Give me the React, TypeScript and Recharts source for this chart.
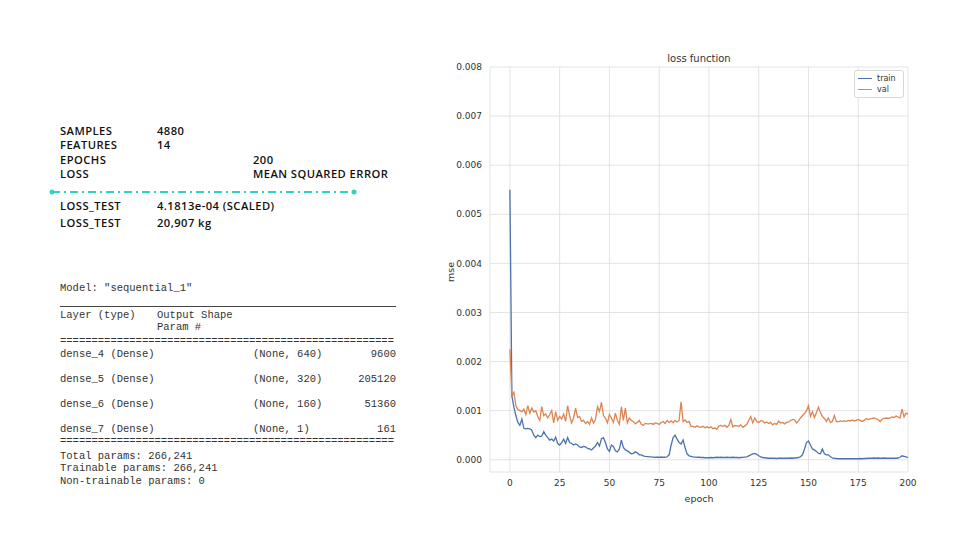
import { CartesianGrid, Line, LineChart, XAxis, YAxis } from 'recharts';

// summary block on the left
const summaryRows = [
  { label: 'SAMPLES', value: '4880', col: 157, y: 131 },
  { label: 'FEATURES', value: '14', col: 157, y: 145 },
  { label: 'EPOCHS', value: '200', col: 253, y: 160 },
  { label: 'LOSS', value: 'MEAN SQUARED ERROR', col: 253, y: 174 },
];
const testRows = [
  { label: 'LOSS_TEST', value: '4.1813e-04 (SCALED)', y: 206 },
  { label: 'LOSS_TEST', value: '20,907 kg', y: 223 },
];

const layerRows = [
  { name: 'dense_4 (Dense)', shape: '(None, 640)', params: '9600', y: 354 },
  { name: 'dense_5 (Dense)', shape: '(None, 320)', params: '205120', y: 379 },
  { name: 'dense_6 (Dense)', shape: '(None, 160)', params: '51360', y: 404 },
  { name: 'dense_7 (Dense)', shape: '(None, 1)', params: '161', y: 429 },
];
const footerRows = [
  { text: 'Total params: 266,241', y: 456 },
  { text: 'Trainable params: 266,241', y: 468 },
  { text: 'Non-trainable params: 0', y: 481 },
];

// chart data (mse, in units of 1e-4), epochs 0..200
const trainLossE4 = [
  55, 13, 10.7, 9, 7.6, 7, 8.3, 6.4, 6.3, 6.4,
  6.3, 6, 5, 4.5, 5, 4.7, 4.8, 5.7, 5, 4.5,
  4, 4.2, 3.8, 4.6, 3.3, 3, 3.5, 4.2, 3.3, 4.5,
  3.5, 3.3, 3, 3.2, 3, 2.6, 2.5, 2.7, 2.6, 2.3,
  2.2, 2, 2.4, 2.8, 3.5, 2.8, 4.3, 4.5, 3.5, 2.2,
  1.7, 3, 2.7, 1.8, 1.6, 2.2, 4, 2.5, 2, 1.8,
  1.5, 1.2, 1.3, 1.6, 1.4, 1, 1, 0.8, 0.7, 0.65,
  0.6, 0.6, 0.55, 0.5, 0.5, 0.5, 0.55, 0.5, 0.5, 0.6,
  1, 3, 4.5, 5, 4.2, 3.5, 3.2, 4, 2.5, 1.2,
  0.8, 0.7, 0.6, 0.55, 0.5, 0.5, 0.45, 0.45, 0.4, 0.4,
  0.4, 0.45, 0.4, 0.45, 0.5, 0.45, 0.5, 0.45, 0.45, 0.5,
  0.45, 0.45, 0.5, 0.45, 0.45, 0.4, 0.45, 0.5, 0.55, 0.6,
  0.8, 1, 1.2, 1.3, 1.1, 0.8, 0.6, 0.45, 0.4, 0.35,
  0.3, 0.3, 0.3, 0.3, 0.25, 0.3, 0.3, 0.3, 0.3, 0.3,
  0.3, 0.35, 0.3, 0.35, 0.4, 0.45, 0.6, 1, 2.2, 3.5,
  3.8, 3, 2.2, 2, 1.7, 1.3, 1.2, 2.2, 1.2, 1,
  1, 0.6, 0.4, 0.3, 0.25, 0.2, 0.2, 0.2, 0.2, 0.2,
  0.2, 0.2, 0.2, 0.2, 0.2, 0.2, 0.25, 0.2, 0.25, 0.25,
  0.3, 0.3, 0.3, 0.35, 0.3, 0.35, 0.3, 0.3, 0.35, 0.3,
  0.3, 0.3, 0.3, 0.3, 0.3, 0.35, 0.5, 0.8, 0.7, 0.6,
  0.4,
];
const valLossE4 = [
  22.5, 13, 13.7, 11, 10.2, 10, 9.8, 10.3, 9.2, 11,
  9.5, 10.5, 9.7, 10, 8.8, 8, 10.8, 9, 9.3, 8.5,
  9.2, 10, 7.5, 9.8, 8, 8.8, 8.3, 9.3, 7.8, 11,
  9, 7.5, 8.5, 10.5, 8.6, 8.8, 7.8, 8, 7.4, 7.8,
  7.2, 8.5, 7.5, 8.2, 10.8, 9.8, 11.7, 9, 8.5, 7.5,
  9.2, 8.5, 7.6, 9.5, 8, 7.2, 10.8, 8, 10.5, 7.5,
  8.5, 8, 7.8, 7.3, 7.6, 8, 7.2, 7, 7.4, 7.3,
  7.3, 7.4, 7.2, 7.5, 7.4, 7.2, 7.6, 7.8, 7.4, 8,
  7.6, 7.9, 7.5, 8, 7.7, 8, 11.8, 7.8, 8.1, 7.6,
  7.8, 6.8, 6.8, 6.6, 6.9, 6.7, 6.6, 6.8, 6.5, 6.7,
  6.5, 6.7, 6.3, 6.5, 6.2, 6.9, 7, 6.8, 7, 6.6,
  7, 8.2, 6.7, 7, 6.9, 6.8, 7.1, 6.6, 6.9, 7.2,
  8, 8.8, 7.5, 8.5, 7.8, 7.6, 7.9, 7.9, 7.5, 7.7,
  7.4, 7.6, 7.1, 7.4, 7.2, 7.9, 7.5, 7.6, 7.3, 7.6,
  7.7, 8, 8.2, 8.1, 7.5, 7.9, 8.5, 9, 9.4, 10,
  11, 8.8, 9.8, 8.6, 9.6, 10.7, 9.6, 8.8, 8.4, 7.8,
  8.5, 7.6, 7.8, 9, 7.8, 7.7, 7.9, 7.8, 7.9, 7.8,
  8, 7.9, 8.1, 7.9, 8, 8.2, 8, 7.8, 8, 8.4,
  8.2, 8.3, 8.4, 8.5, 8.3, 8.2, 7.8, 8.3, 8.4, 8.5,
  8.4, 8.5, 8.7, 8.6, 8.9, 8.7, 8.5, 10.3, 8.7, 9.5,
  9.3,
];
const epochTicks = [0, 25, 50, 75, 100, 125, 150, 175, 200];
const mseTicks = [0, 0.001, 0.002, 0.003, 0.004, 0.005, 0.006, 0.007, 0.008];

const TRAIN = '#4c72b0';
const VAL = '#dd8452';
const seriesLegend = [
  { name: 'train', color: TRAIN },
  { name: 'val', color: VAL },
];

const data = trainLossE4.map((v, i) => ({
  epoch: i,
  train: v * 1e-4,
  val: valLossE4[i] * 1e-4,
}));

const sans = '"Open Sans", sans-serif';
const mono = '"Liberation Mono", monospace';
const mpl = '"DejaVu Sans", sans-serif';

function At({ x, y, size, font, weight, color, children, right, spacing }: any) {
  const style: any = {
    position: 'absolute',
    top: y - size / 2,
    fontSize: size,
    lineHeight: `${size}px`,
    fontFamily: font,
    fontWeight: weight,
    color,
    letterSpacing: spacing,
    whiteSpace: 'pre',
  };
  if (right) style.right = 960 - x;
  else style.left = x;
  return <div style={style}>{children}</div>;
}

function MplLegend() {
  return (
    <div
      style={{
        position: 'absolute',
        left: 854,
        top: 70,
        width: 48,
        padding: '2px 0',
        border: '1px solid #d8d8d8',
        borderRadius: 3,
        background: '#fff',
        fontFamily: mpl,
        fontSize: 8,
        color: '#333',
      }}
    >
      {seriesLegend.map((p) => (
        <div key={p.name} style={{ display: 'flex', alignItems: 'center', height: 11 }}>
          <span style={{ display: 'inline-block', width: 14, height: 1.5, background: p.color, marginLeft: 3, marginRight: 5 }} />
          {p.name}
        </div>
      ))}
    </div>
  );
}

export default function App() {
  const txt = '#111';
  const code = '#333';
  return (
    <div style={{ position: 'absolute', left: 0, top: 0, width: 960, height: 540, background: '#fff', overflow: 'hidden' }}>
      {summaryRows.map((r) => (
        <div key={r.label}>
          <At x={60} y={r.y} size={11.2} font={sans} weight={600} color={txt} spacing={0.45}>{r.label}</At>
          <At x={r.col} y={r.y} size={11.2} font={sans} weight={600} color={txt} spacing={0.45}>{r.value}</At>
        </div>
      ))}
      <svg style={{ position: 'absolute', left: 0, top: 0 }} width={960} height={540}>
        <line x1={52} y1={192} x2={354} y2={192} stroke="#2dd4bf" strokeWidth={2} strokeDasharray="8 4 2 4" />
        <circle cx={52} cy={192} r={2.5} fill="#2dd4bf" />
        <circle cx={354} cy={192} r={2.5} fill="#2dd4bf" />
      </svg>
      {testRows.map((r) => (
        <div key={r.value}>
          <At x={60} y={r.y} size={11.2} font={sans} weight={600} color={txt} spacing={0.45}>{r.label}</At>
          <At x={157} y={r.y} size={11.2} font={sans} weight={600} color={txt} spacing={0.45}>{r.value}</At>
        </div>
      ))}

      <At x={60} y={288} size={10.5} font={mono} color={code}>Model: "sequential_1"</At>
      <div style={{ position: 'absolute', left: 60, top: 306, width: 336, borderTop: '1px solid #444' }} />
      <At x={60} y={315} size={10.5} font={mono} color={code}>Layer (type)</At>
      <At x={157} y={315} size={10.5} font={mono} color={code}>Output Shape</At>
      <At x={157} y={327} size={10.5} font={mono} color={code}>Param #</At>
      <At x={60} y={341} size={10.5} font={mono} color={code}>{'='.repeat(53)}</At>
      {layerRows.map((r) => (
        <div key={r.name}>
          <At x={60} y={r.y} size={10.5} font={mono} color={code}>{r.name}</At>
          <At x={253} y={r.y} size={10.5} font={mono} color={code}>{r.shape}</At>
          <At x={396} y={r.y} size={10.5} font={mono} color={code} right>{r.params}</At>
        </div>
      ))}
      <At x={60} y={441} size={10.5} font={mono} color={code}>{'='.repeat(53)}</At>
      {footerRows.map((r) => (
        <At key={r.text} x={60} y={r.y} size={10.5} font={mono} color={code}>{r.text}</At>
      ))}

      <div style={{ position: 'absolute', left: 599, width: 200, top: 53, textAlign: 'center', fontFamily: mpl, fontSize: 10, lineHeight: '12px', color: '#333' }}>
        loss function
      </div>
      <div
        style={{
          position: 'absolute',
          left: 451 - 20,
          top: 272 - 6,
          width: 40,
          textAlign: 'center',
          fontFamily: mpl,
          fontSize: 9.5,
          lineHeight: '12px',
          color: '#333',
          transform: 'rotate(-90deg)',
        }}
      >
        mse
      </div>

      <div style={{ position: 'absolute', left: 440, top: 45 }}>
        <LineChart width={480} height={470} data={data} margin={{ top: 22, right: 12, left: 0, bottom: 0 }}>
          <CartesianGrid stroke="#dcdcdc" strokeWidth={0.8} />
          <XAxis
            dataKey="epoch"
            type="number"
            domain={[-10, 200]}
            ticks={epochTicks}
            axisLine={false}
            tickLine={false}
            height={43}
            tick={{ fontSize: 9, fill: '#333', fontFamily: mpl }}
            label={{ value: 'epoch', position: 'insideBottom', offset: 13, fontSize: 9.5, fill: '#333', fontFamily: mpl }}
          />
          <YAxis
            type="number"
            domain={[-0.00025, 0.008]}
            allowDataOverflow
            ticks={mseTicks}
            tickFormatter={(v: number) => v.toFixed(3)}
            axisLine={false}
            tickLine={false}
            width={50}
            tick={{ fontSize: 9, fill: '#333', fontFamily: mpl }}
          />
          <Line type="linear" dataKey="train" name="train" stroke={TRAIN} strokeWidth={1.3} dot={false} isAnimationActive={false} />
          <Line type="linear" dataKey="val" name="val" stroke={VAL} strokeWidth={1.3} dot={false} isAnimationActive={false} />
        </LineChart>
      </div>
      <MplLegend />
    </div>
  );
}
